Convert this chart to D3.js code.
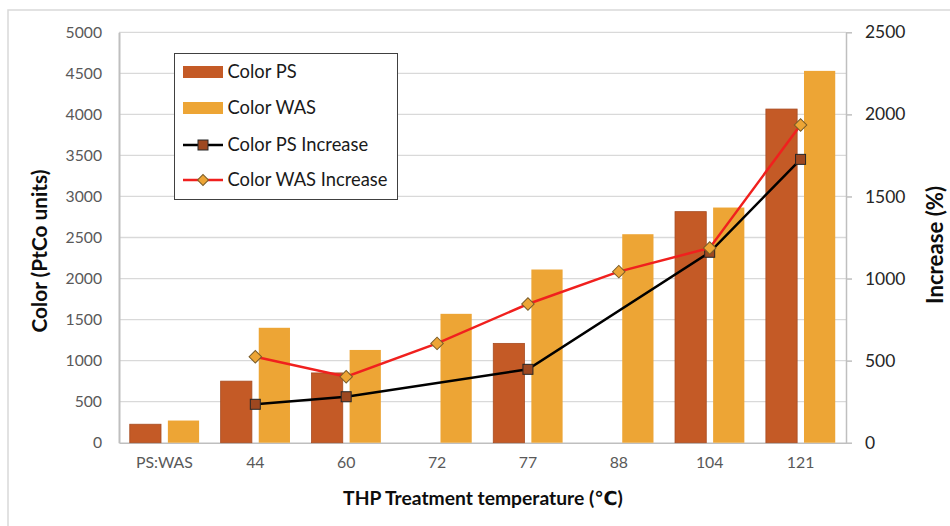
<!DOCTYPE html>
<html>
<head>
<meta charset="utf-8">
<script src="https://cdn.jsdelivr.net/npm/d3@7"></script>
<style>
	body { margin: 0; background: #fff; }
	text { font-family: Lato, "DejaVu Sans", sans-serif; }
</style>
</head>
<body>
<div id="chart"></div>
<script>

const categories = ["PS:WAS", "44", "60", "72", "77", "88", "104", "121"];
const colorPS = [225, 750, 850, null, 1210, null, 2815, 4065];
const colorWAS = [270, 1400, 1130, 1570, 2110, 2540, 2865, 4530];
const increasePS = [null, 234, 280, null, 447, null, 1160, 1726];
const increaseWAS = [null, 524, 402, 605, 845, 1042, 1186, 1935];
const leftTicks = [0, 500, 1000, 1500, 2000, 2500, 3000, 3500, 4000, 4500, 5000];
const rightTicks = [0, 500, 1000, 1500, 2000, 2500];

const WIDTH = 950;
const HEIGHT = 526;
const PS_COLOR = "#c45a26";
const WAS_COLOR = "#eda535";
const GRID = "#d9d9d9";
const AXIS = "#bfbfbf";

const margin = { top: 32.3, left: 119, right: 104, bottom: 83.3 };
const w = WIDTH - margin.left - margin.right;
const h = HEIGHT - margin.top - margin.bottom;

const svg = d3.select("#chart").append("svg")
	.attr("width", WIDTH)
	.attr("height", HEIGHT);

// scale a text's font size so that it spans the given width
function fitSize (sample, target, weight) {
	const t = svg.append("text")
		.style("font-size", "20px")
		.style("font-weight", weight || "normal")
		.text(sample);
	const len = t.node().getComputedTextLength();
	t.remove();
	return (20 * target / len).toFixed(2) + "px";
}

const tickSizeLeft = fitSize("5000", 36.5);
const tickSizeRight = fitSize("2500", 40.5);
const tickSizeBottom = fitSize("PS:WAS", 57);
const legendSize = fitSize("Color WAS Increase", 160);
const titleSizeLeft = fitSize("Color (PtCo units)", 163, "bold");
const titleSizeRight = fitSize("Increase (%)", 118, "bold");
const titleSizeBottom = fitSize("THP Treatment temperature (℃)", 280, "bold");

// chart frame
svg.append("rect")
	.attr("x", 8).attr("y", 10)
	.attr("width", 1000).attr("height", 1000)
	.attr("fill", "none")
	.attr("stroke", GRID)
	.attr("stroke-width", 1.5);

const g = svg.append("g")
	.attr("transform", "translate(" + margin.left + "," + margin.top + ")");

const x0 = d3.scaleBand()
	.domain(categories)
	.range([0, w])
	.paddingInner(0.237)
	.paddingOuter(0.1185);

const x1 = d3.scaleBand()
	.domain(["ps", "was"])
	.range([0, x0.bandwidth()])
	.paddingInner(0.18);

const yLeft = d3.scaleLinear().domain([0, 5000]).range([h, 0]);
const yRight = d3.scaleLinear().domain([0, 2500]).range([h, 0]);

// gridlines
g.append("g")
	.selectAll("line")
	.data(leftTicks.slice(1))
	.enter()
	.append("line")
	.attr("x1", 0).attr("x2", w)
	.attr("y1", d => yLeft(d)).attr("y2", d => yLeft(d))
	.attr("stroke", GRID)
	.attr("stroke-width", 1.3);

// left axis
const axisLeft = g.append("g")
	.call(d3.axisLeft(yLeft).tickValues(leftTicks).tickFormat(d3.format("d")).tickSize(0).tickPadding(17));
axisLeft.select(".domain").attr("stroke", AXIS).attr("stroke-width", 2);
axisLeft.selectAll("text")
	.attr("fill", "#595959")
	.style("font-size", tickSizeLeft);

// right axis
const axisRight = g.append("g")
	.attr("transform", "translate(" + w + ",0)")
	.call(d3.axisRight(yRight).tickValues(rightTicks).tickFormat(d3.format("d")).tickSize(6).tickSizeOuter(0).tickPadding(13));
axisRight.select(".domain").attr("stroke", AXIS).attr("stroke-width", 1.5);
axisRight.selectAll(".tick line").attr("stroke", AXIS).attr("stroke-width", 1.5);
axisRight.selectAll("text")
	.attr("fill", "#262626")
	.style("font-size", tickSizeRight);

// bottom axis
const axisBottom = g.append("g")
	.attr("transform", "translate(0," + h + ")")
	.call(d3.axisBottom(x0).tickSize(0).tickSizeOuter(0).tickPadding(14));
axisBottom.select(".domain").attr("stroke", AXIS).attr("stroke-width", 1.5);
axisBottom.selectAll("text")
	.attr("fill", "#595959")
	.style("font-size", tickSizeBottom);

// bars
const groups = g.append("g")
	.selectAll("g")
	.data(categories.map((c, i) => ({ cat: c, ps: colorPS[i], was: colorWAS[i] })))
	.enter()
	.append("g")
	.attr("transform", d => "translate(" + x0(d.cat) + ",0)");

groups.filter(d => d.ps != null)
	.append("rect")
	.attr("x", x1("ps"))
	.attr("width", x1.bandwidth())
	.attr("y", d => yLeft(d.ps))
	.attr("height", d => h - yLeft(d.ps))
	.attr("fill", PS_COLOR)
	.attr("stroke", "#a84c22")
	.attr("stroke-width", 0.8);

groups.append("rect")
	.attr("x", x1("was"))
	.attr("width", x1.bandwidth())
	.attr("y", d => yLeft(d.was))
	.attr("height", d => h - yLeft(d.was))
	.attr("fill", WAS_COLOR);

// lines
const cx = c => x0(c) + x0.bandwidth() / 2;
const line = d3.line()
	.x(d => cx(d.cat))
	.y(d => yRight(d.v));

const psPts = categories.map((c, i) => ({ cat: c, v: increasePS[i] })).filter(d => d.v != null);
const wasPts = categories.map((c, i) => ({ cat: c, v: increaseWAS[i] })).filter(d => d.v != null);

g.append("path")
	.datum(psPts)
	.attr("d", line)
	.attr("fill", "none")
	.attr("stroke", "#000")
	.attr("stroke-width", 2.5);

g.append("g")
	.selectAll("rect")
	.data(psPts)
	.enter()
	.append("rect")
	.attr("x", d => cx(d.cat) - 5)
	.attr("y", d => yRight(d.v) - 5)
	.attr("width", 10).attr("height", 10)
	.attr("fill", "#9e4820")
	.attr("stroke", "#262626")
	.attr("stroke-width", 1);

g.append("path")
	.datum(wasPts)
	.attr("d", line)
	.attr("fill", "none")
	.attr("stroke", "#f0201e")
	.attr("stroke-width", 2.5);

g.append("g")
	.selectAll("path")
	.data(wasPts)
	.enter()
	.append("path")
	.attr("transform", d => "translate(" + cx(d.cat) + "," + yRight(d.v) + ") rotate(45)")
	.attr("d", d3.symbol().type(d3.symbolSquare).size(78))
	.attr("fill", "#eda535")
	.attr("stroke", "#7a5c28")
	.attr("stroke-width", 1);

// axis titles
svg.append("text")
	.attr("transform", "translate(40,251) rotate(-90)")
	.attr("text-anchor", "middle")
	.attr("dy", "0.35em")
	.attr("fill", "#0d0d0d")
	.style("font-size", titleSizeLeft)
	.style("font-weight", "bold")
	.text("Color (PtCo units)");

svg.append("text")
	.attr("transform", "translate(935,245) rotate(-90)")
	.attr("text-anchor", "middle")
	.attr("dy", "0.35em")
	.attr("fill", "#0d0d0d")
	.style("font-size", titleSizeRight)
	.style("font-weight", "bold")
	.text("Increase (%)");

svg.append("text")
	.attr("x", 483)
	.attr("y", 498)
	.attr("dy", "0.35em")
	.attr("text-anchor", "middle")
	.attr("fill", "#0d0d0d")
	.style("font-size", titleSizeBottom)
	.style("font-weight", "bold")
	.text("THP Treatment temperature (℃)");

// legend
const legend = svg.append("g").attr("transform", "translate(174.5,53.5)");
legend.append("rect")
	.attr("width", 223).attr("height", 146)
	.attr("fill", "#fff")
	.attr("stroke", "#404040")
	.attr("stroke-width", 1);

const legendItems = ["Color PS", "Color WAS", "Color PS Increase", "Color WAS Increase"];
const rowY = [18.5, 54.5, 91.5, 126.5];

legendItems.forEach((name, i) => {
	const row = legend.append("g").attr("transform", "translate(0," + rowY[i] + ")");
	if (i < 2) {
		row.append("rect")
			.attr("x", 8.5).attr("y", -6)
			.attr("width", 40).attr("height", 12)
			.attr("fill", i == 0 ? PS_COLOR : WAS_COLOR);
	} else {
		row.append("line")
			.attr("x1", 8.5).attr("x2", 48.5)
			.attr("stroke", i == 2 ? "#000" : "#f0201e")
			.attr("stroke-width", 2.5);
		if (i == 2) {
			row.append("rect")
				.attr("x", 23.5).attr("y", -5)
				.attr("width", 10).attr("height", 10)
				.attr("fill", "#9e4820")
				.attr("stroke", "#262626");
		} else {
			row.append("path")
				.attr("transform", "translate(28.5,0) rotate(45)")
				.attr("d", d3.symbol().type(d3.symbolSquare).size(60))
				.attr("fill", "#eda535")
				.attr("stroke", "#7a5c28");
		}
	}
	row.append("text")
		.attr("x", 53)
		.attr("dy", "0.35em")
		.attr("fill", "#1a1a1a")
		.style("font-size", legendSize)
		.text(name);
});

</script>
</body>
</html>
